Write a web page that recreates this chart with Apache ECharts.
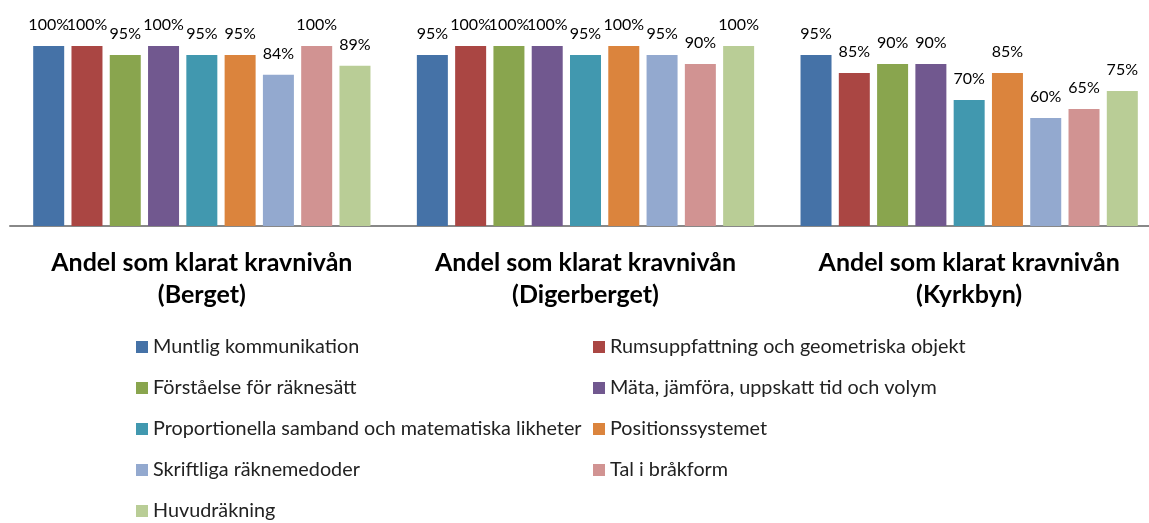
<!DOCTYPE html>
<html>
<head>
<meta charset="utf-8">
<script src="https://cdn.jsdelivr.net/npm/echarts@6/dist/echarts.min.js"></script>
<style>
  html, body { margin: 0; padding: 0; background: #fff; overflow: hidden; }
  #chart { width: 1161px; height: 523px; }
</style>
</head>
<body>
<div id="chart"></div>
<script>
const categories = [
  "Andel som klarat kravnivån\n(Berget)",
  "Andel som klarat kravnivån\n(Digerberget)",
  "Andel som klarat kravnivån\n(Kyrkbyn)"
];

const seriesNames = [
  "Muntlig kommunikation",
  "Rumsuppfattning och geometriska objekt",
  "Förståelse för räknesätt",
  "Mäta, jämföra, uppskatt tid och volym",
  "Proportionella samband och matematiska likheter",
  "Positionssystemet",
  "Skriftliga räknemedoder",
  "Tal i bråkform",
  "Huvudräkning"
];

// percent per skill, one array per school
const berget = [100, 100, 95, 100, 95, 95, 84, 100, 89];
const digerberget = [95, 100, 100, 100, 95, 100, 95, 90, 100];
const kyrkbyn = [95, 85, 90, 90, 70, 85, 60, 65, 75];

const colors = ["#4572A7", "#AA4643", "#89A54E", "#71588F", "#4198AF", "#DB843D", "#93A9CF", "#D19392", "#B9CD96"];

const chart = echarts.init(document.getElementById("chart"));

const series = seriesNames.map((name, i) => ({
  name: name,
  type: "bar",
  barWidth: 31,
  barGap: "23.5%",
  itemStyle: { color: colors[i] },
  label: {
    show: true,
    position: "top",
    distance: 13,
    formatter: "{c}%",
    color: "#000",
    fontFamily: "Lato",
    fontSize: 16
  },
  data: [berget[i], digerberget[i], kyrkbyn[i]]
}));

const legendText = {
  fontFamily: "Lato",
  fontSize: 19.8,
  color: "#222",
  lineHeight: 24
};

const legendBase = {
  orient: "vertical",
  top: 335,
  height: 260,
  padding: 0,
  itemWidth: 12,
  itemHeight: 12,
  itemGap: 17,
  icon: "rect",
  textStyle: legendText
};

chart.setOption({
  animation: false,
  grid: { left: 10, right: 0, top: 10, bottom: 297 },
  xAxis: {
    type: "category",
    data: categories,
    axisLine: { lineStyle: { color: "#888", width: 2 } },
    axisTick: { show: false },
    axisLabel: {
      interval: 0,
      margin: 21,
      fontFamily: "Lato",
      fontSize: 25,
      fontWeight: "bold",
      color: "#000",
      lineHeight: 32
    }
  },
  yAxis: {
    type: "value",
    min: 0,
    max: 120,
    show: false,
    splitLine: { show: false }
  },
  legend: [
    Object.assign({}, legendBase, {
      left: 136,
      data: [seriesNames[0], seriesNames[2], seriesNames[4], seriesNames[6], seriesNames[8]]
    }),
    Object.assign({}, legendBase, {
      left: 593,
      data: [seriesNames[1], seriesNames[3], seriesNames[5], seriesNames[7]]
    })
  ],
  series: series
});
</script>
</body>
</html>
